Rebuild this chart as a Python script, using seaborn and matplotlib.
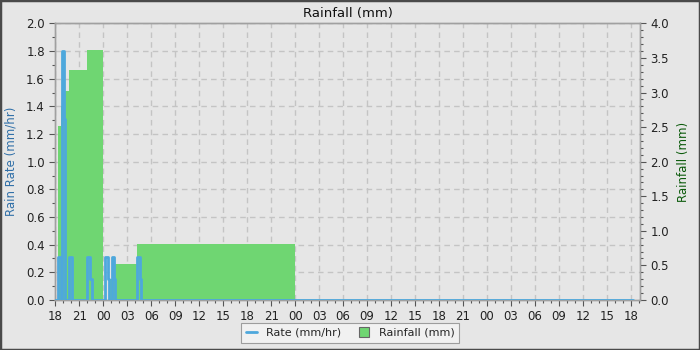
import matplotlib
matplotlib.use("Agg")
import matplotlib.pyplot as plt
import seaborn as sns
import pandas as pd
from matplotlib.lines import Line2D
from matplotlib.patches import Rectangle
from matplotlib.ticker import MultipleLocator, FixedLocator

# ---- data (hours after 18:00 on day one) ----
rate_hours = [0, 0.34, 0.71, 0.84, 1.10, 1.20, 1.71, 2.09, 4.00, 4.34, 4.53,
              6.21, 6.59, 6.75, 7.05, 7.34, 7.46, 10.25, 10.59, 10.71, 72.3]
rate_mmhr = [0, 0.31, 0, 1.80, 1.31, 0, 0.31, 0, 0.31, 0.15, 0,
             0.31, 0.15, 0, 0.31, 0.15, 0, 0.31, 0.15, 0, 0]

rain_hours = [0.34, 0.71, 1.21, 1.71, 4.00, 6.00, 6.75, 7.46, 10.25, 30.0]
rain_mm = [2.51, 2.80, 3.02, 3.32, 3.61, 0, 0.31, 0.52, 0.81, 0]

tick_hours = list(range(0, 73, 3))
tick_labels = ["18", "21", "00", "03", "06", "09", "12", "15",
               "18", "21", "00", "03", "06", "09", "12", "15",
               "18", "21", "00", "03", "06", "09", "12", "15", "18"]

title = "Rainfall (mm)"
left_label = "Rain Rate (mm/hr)"
right_label = "Rainfall (mm)"

# ---- style ----
BG = "#e6e6e6"
BLUE = "#4ea8dc"
GREEN = "#6fd672"
GRID = "#c4c4c4"
SPINE = "#a0a0a0"

sns.set_theme(style="white")
plt.rcParams["font.family"] = ["DejaVu Sans"]

fig = plt.figure(figsize=(7, 3.5), dpi=100, facecolor=BG)
ax = fig.add_axes([0.079, 0.143, 0.835, 0.790])
ax.set_facecolor(BG)

ax2 = ax.twinx()   # rainfall (right)
ax3 = ax.twinx()   # rate line on top
for a in (ax2, ax3):
    a.patch.set_visible(False)

xlim = (0, 73.1)

# rainfall area
ax2.fill_between(rain_hours, rain_mm, step="post", color=GREEN, linewidth=0, zorder=2)
ax2.set_ylim(0, 4.0)
ax2.set_xlim(*xlim)

# rate line
df = pd.DataFrame({"h": rate_hours, "r": rate_mmhr})
sns.lineplot(data=df, x="h", y="r", ax=ax3, color=BLUE, linewidth=2,
             drawstyle="steps-post", estimator=None, sort=False)
ax3.set_ylim(0, 2.0)
ax3.set_xlim(*xlim)
ax3.set_xlabel("")
ax3.set_ylabel("")
ax3.yaxis.set_visible(False)
for s in ax3.spines.values():
    s.set_visible(False)

# main axis
ax.set_xlim(*xlim)
ax.set_ylim(0, 2.0)
ax.xaxis.set_major_locator(FixedLocator(tick_hours))
ax.set_xticklabels(tick_labels)
ax.xaxis.set_minor_locator(MultipleLocator(1))
ax.yaxis.set_major_locator(MultipleLocator(0.2))
ax.yaxis.set_minor_locator(MultipleLocator(0.1))
ax.yaxis.set_major_formatter(matplotlib.ticker.FormatStrFormatter("%.1f"))
ax.grid(True, which="major", color=GRID, linestyle=(0, (4, 3)), linewidth=1)
ax.set_axisbelow(True)

ax2.yaxis.set_major_locator(MultipleLocator(0.5))
ax2.yaxis.set_minor_locator(MultipleLocator(0.1))
ax2.yaxis.set_major_formatter(matplotlib.ticker.FormatStrFormatter("%.1f"))

for a in (ax, ax2):
    a.tick_params(which="both", direction="out", color="#555555", labelsize=8.5,
                  labelcolor="#222222")
    a.tick_params(which="major", length=4, width=0.8)
    a.tick_params(which="minor", length=2.5, width=0.8)
    for s in a.spines.values():
        s.set_color(SPINE)
        s.set_linewidth(1)
ax.tick_params(axis="x", which="both", bottom=True)
ax.tick_params(axis="y", which="both", left=True)
ax2.tick_params(axis="y", which="both", right=True)
ax2.tick_params(axis="x", which="both", bottom=False, labelbottom=False)

ax.set_ylabel(left_label, color="#2f6fa8", fontsize=8.5, labelpad=6)
ax2.set_ylabel(right_label, color="#0a5a0a", fontsize=8.5, labelpad=6)
ax.set_title(title, fontsize=9.5, color="#111111", pad=5)

# legend
handles = [Line2D([0], [0], color=BLUE, linewidth=2),
           Line2D([0], [0], marker="s", linestyle="none", markersize=7,
                  markerfacecolor=GREEN, markeredgecolor="#666666", markeredgewidth=0.8)]
leg = fig.legend(handles, ["Rate (mm/hr)", "Rainfall (mm)"], loc="lower center",
                 bbox_to_anchor=(0.5, 0.005), ncol=2, fontsize=8, frameon=True,
                 fancybox=False, edgecolor="#8a8a8a", facecolor="#f4f4f4",
                 handlelength=1.0, handletextpad=0.8, columnspacing=1.6,
                 borderpad=0.45)
leg.get_frame().set_linewidth(0.8)

# figure border
fig.patches.append(Rectangle((0, 0), 1, 1, transform=fig.transFigure, fill=False,
                             edgecolor="#4a4a4a", linewidth=2.5, zorder=10))

fig.savefig("out.png", dpi=100, facecolor=BG)
